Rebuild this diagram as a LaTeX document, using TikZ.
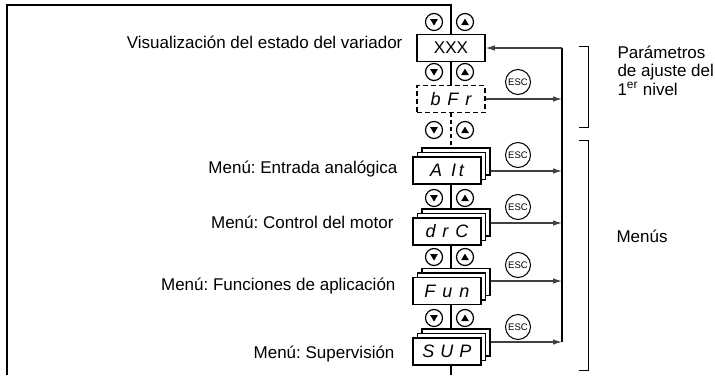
\documentclass[tikz,border=0pt]{standalone}
\usepackage{fontspec}
\setmainfont{Liberation Sans}
\usetikzlibrary{arrows.meta,shadows}
\begin{document}
\frenchspacing
\begin{tikzpicture}[x=1pt,y=-1pt,
  every node/.style={font=\fontsize{17}{18.5}\selectfont},
  ln/.style={line width=1.1pt},
  disp/.style={draw, line width=1.5pt, fill=white, minimum width=68pt, minimum height=27pt, inner sep=0pt},
  segtxt/.style={font=\fontsize{18}{18}\selectfont\itshape},
  stack/.style={disp, segtxt, double copy shadow={shadow xshift=4.5pt, shadow yshift=4.5pt}},
  btn/.style={circle, draw, line width=1.2pt, fill=white, minimum size=17pt, inner sep=0pt},
  btndn/.style={btn, path picture={\fill[black] ([xshift=-3.8pt,yshift=2.8pt]path picture bounding box.center) -- ++(7.6pt,0pt) -- ++(-3.8pt,-6.4pt) -- cycle;}},
  btnup/.style={btn, path picture={\fill[black] ([xshift=-3.8pt,yshift=-3pt]path picture bounding box.center) -- ++(7.6pt,0pt) -- ++(-3.8pt,6.4pt) -- cycle;}},
  esc/.style={circle, draw, line width=1pt, minimum size=25pt, inner sep=0pt, fill=white, font=\fontsize{9.5}{10}\selectfont},
  arr/.style={line width=1.1pt, draw=black!75, -{Latex[length=9pt,width=5.5pt]}},
  lbl/.style={anchor=base east},
  rlbl/.style={anchor=base west},
  brk/.style={line width=1pt}
]
\useasboundingbox (0,0) rectangle (715,375);

% displays
\node[disp] (XXX) at (451,48) {XXX};
\node[disp, segtxt, dashed, line width=1.2pt, dash pattern=on 5pt off 3pt] (bFr) at (451,99) {b\hspace{7pt}F\hspace{7pt}r};
\node[stack] (AIt) at (447,170.5) {A\hspace{9pt}I\hspace{3pt}t};
\node[stack] (drC) at (447,231.5) {d\hspace{7pt}r\hspace{7pt}C};
\node[stack] (Fun) at (447,291) {F\hspace{7pt}u\hspace{7pt}n};
\node[stack] (SUP) at (447,351.5) {S\hspace{6pt}U\hspace{6pt}P};

% coordinates
\coordinate (T) at (451,5);
\coordinate (TL) at (7,5);
\coordinate (BL) at (7,375);
\coordinate (B) at (451,375);
\coordinate (R0) at (562,48);
\coordinate (R2) at (562,171);
\coordinate (R3) at (562,223);
\coordinate (R4) at (562,281);
\coordinate (R5) at (562,342);

% main chain
\draw[ln] (XXX.north) -- (T) -- (TL) -- (BL);
\draw[ln] (XXX.south) -- (bFr.north);
\draw[ln, dashed, dash pattern=on 4pt off 3pt] (bFr.south) -- ([xshift=4pt,yshift=9pt]AIt.north);
\draw[ln] ([xshift=4pt]AIt.south) -- ([xshift=4pt,yshift=9pt]drC.north);
\draw[ln] ([xshift=4pt]drC.south) -- ([xshift=4pt,yshift=9pt]Fun.north);
\draw[ln] ([xshift=4pt]Fun.south) -- ([xshift=4pt,yshift=9pt]SUP.north);
\draw[ln] ([xshift=4pt]SUP.south) -- (B);

% buttons
\foreach \y [count=\i] in {22,72,130,198,257,318}{
  \node[btndn] (dn\i) at (434,\y) {};
  \node[btnup] (up\i) at (465,\y) {};
}

% ESC buttons
\node[esc] (esc1) at (518,82) {ESC};
\node[esc] (esc2) at (518,155) {ESC};
\node[esc] (esc3) at (518,207) {ESC};
\node[esc] (esc4) at (518,265) {ESC};
\node[esc] (esc5) at (518,327) {ESC};

% right return line
\draw[ln] (R0) -- (R5);
\draw[arr] (R0) -- (XXX.east);
\draw[arr] (bFr.east) -- (bFr.east -| R0);
\draw[arr] ([xshift=9pt]AIt.east |- R2) -- (R2);
\draw[arr] ([xshift=9pt]drC.east |- R3) -- (R3);
\draw[arr] ([xshift=9pt]Fun.east |- R4) -- (R4);
\draw[arr] ([xshift=9pt]SUP.east |- R5) -- (R5);

% brackets
\draw[brk] (579,46) -- (588,46) -- (588,127) -- (579,127);
\draw[brk] (579,140) -- (588,140) -- (588,370) -- (579,370);

% labels
\node[lbl] (lv) at (406,48) {Visualización del estado del variador};
\node[lbl] (l1) at (401,173) {Menú: Entrada analógica};
\node[lbl] (l2) at (397,228) {Menú: Control del motor};
\node[lbl] (l3) at (399,290) {Menú: Funciones de aplicación};
\node[lbl] (l4) at (398,358) {Menú: Supervisión};
\node[rlbl] (par1) at (614,58) {Parámetros};
\node[rlbl] (par2) at (614,76.5) {de ajuste del};
\node[rlbl] (par3) at (614,95) {1\textsuperscript{er} nivel};
\node[anchor=west] (men) at (613,236) {Menús};
\end{tikzpicture}
\end{document}
